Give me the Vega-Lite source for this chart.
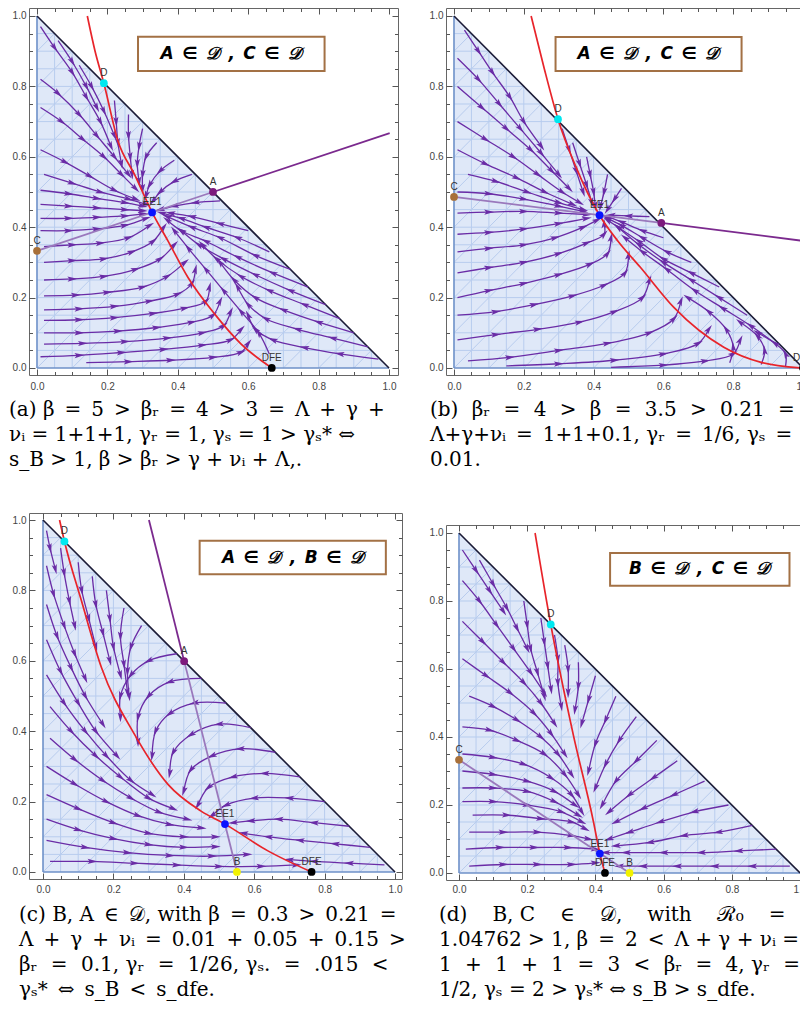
{
"$schema":"https://vega.github.io/schema/vega-lite/v6.json",
"background":"white",
"padding":{"left":8,"top":7,"right":0,"bottom":4},
"spacing":21,
"resolve":{"scale":{"x":"independent","y":"independent","color":"independent"}},
"config":{
 "view":{"stroke":"#666","strokeWidth":1},
 "axis":{"grid":false,"domain":false,"labelFont":"Liberation Sans","labelFontSize":10,"labelColor":"#444","tickColor":"#555","tickWidth":1,"labelFlush":false,"labelOverlap":false},
 "title":{"font":"DejaVu Serif","fontSize":20,"fontWeight":"normal","color":"black","lineHeight":25,"frame":"group"}
},
"datasets":{
 "tri":[{"x":0,"y":1},{"x":1,"y":0}],
 "edges":[{"x":0,"y":0,"x2":0,"y2":1,"e":"l"},{"x":0,"y":0,"x2":1,"y2":0,"e":"l"},{"x":0,"y":1,"x2":1,"y2":0,"e":"h"}],
 "mesh":[
  {"x":0,"x2":0.95,"y":0.05,"y2":0.05},{"x":0,"x2":0.9,"y":0.1,"y2":0.1},{"x":0,"x2":0.85,"y":0.15,"y2":0.15},{"x":0,"x2":0.8,"y":0.2,"y2":0.2},{"x":0,"x2":0.75,"y":0.25,"y2":0.25},{"x":0,"x2":0.7,"y":0.3,"y2":0.3},{"x":0,"x2":0.65,"y":0.35,"y2":0.35},{"x":0,"x2":0.6,"y":0.4,"y2":0.4},{"x":0,"x2":0.55,"y":0.45,"y2":0.45},{"x":0,"x2":0.5,"y":0.5,"y2":0.5},{"x":0,"x2":0.45,"y":0.55,"y2":0.55},{"x":0,"x2":0.4,"y":0.6,"y2":0.6},{"x":0,"x2":0.35,"y":0.65,"y2":0.65},{"x":0,"x2":0.3,"y":0.7,"y2":0.7},{"x":0,"x2":0.25,"y":0.75,"y2":0.75},{"x":0,"x2":0.2,"y":0.8,"y2":0.8},{"x":0,"x2":0.15,"y":0.85,"y2":0.85},{"x":0,"x2":0.1,"y":0.9,"y2":0.9},{"x":0,"x2":0.05,"y":0.95,"y2":0.95},
  {"y":0,"y2":0.95,"x":0.05,"x2":0.05},{"y":0,"y2":0.9,"x":0.1,"x2":0.1},{"y":0,"y2":0.85,"x":0.15,"x2":0.15},{"y":0,"y2":0.8,"x":0.2,"x2":0.2},{"y":0,"y2":0.75,"x":0.25,"x2":0.25},{"y":0,"y2":0.7,"x":0.3,"x2":0.3},{"y":0,"y2":0.65,"x":0.35,"x2":0.35},{"y":0,"y2":0.6,"x":0.4,"x2":0.4},{"y":0,"y2":0.55,"x":0.45,"x2":0.45},{"y":0,"y2":0.5,"x":0.5,"x2":0.5},{"y":0,"y2":0.45,"x":0.55,"x2":0.55},{"y":0,"y2":0.4,"x":0.6,"x2":0.6},{"y":0,"y2":0.35,"x":0.65,"x2":0.65},{"y":0,"y2":0.3,"x":0.7,"x2":0.7},{"y":0,"y2":0.25,"x":0.75,"x2":0.75},{"y":0,"y2":0.2,"x":0.8,"x2":0.8},{"y":0,"y2":0.15,"x":0.85,"x2":0.85},{"y":0,"y2":0.1,"x":0.9,"x2":0.9},{"y":0,"y2":0.05,"x":0.95,"x2":0.95},
  {"x":0.9,"y":0,"x2":0.95,"y2":0.05},{"x":0.8,"y":0,"x2":0.9,"y2":0.1},{"x":0.7,"y":0,"x2":0.85,"y2":0.15},{"x":0.6,"y":0,"x2":0.8,"y2":0.2},{"x":0.5,"y":0,"x2":0.75,"y2":0.25},{"x":0.4,"y":0,"x2":0.7,"y2":0.3},{"x":0.3,"y":0,"x2":0.65,"y2":0.35},{"x":0.2,"y":0,"x2":0.6,"y2":0.4},{"x":0.1,"y":0,"x2":0.55,"y2":0.45},{"x":0,"y":0,"x2":0.5,"y2":0.5},{"x":0,"y":0.1,"x2":0.45,"y2":0.55},{"x":0,"y":0.2,"x2":0.4,"y2":0.6},{"x":0,"y":0.3,"x2":0.35,"y2":0.65},{"x":0,"y":0.4,"x2":0.3,"y2":0.7},{"x":0,"y":0.5,"x2":0.25,"y2":0.75},{"x":0,"y":0.6,"x2":0.2,"y2":0.8},{"x":0,"y":0.7,"x2":0.15,"y2":0.85},{"x":0,"y":0.8,"x2":0.1,"y2":0.9},{"x":0,"y":0.9,"x2":0.05,"y2":0.95}
 ],
 "seg":[
  {"p":"a","k":"in","x":0,"y":0.333,"x2":0.5,"y2":0.5},
  {"p":"a","k":"out","x":0.5,"y":0.5,"x2":1.002,"y2":0.667},
  {"p":"b","k":"in","x":0,"y":0.486,"x2":0.594,"y2":0.412},
  {"p":"b","k":"out","x":0.594,"y":0.412,"x2":1.025,"y2":0.358},
  {"p":"c","k":"in","x":0.551,"y":0,"x2":0.401,"y2":0.599},
  {"p":"c","k":"out","x":0.401,"y":0.599,"x2":0.301,"y2":1.0},
  {"p":"d","k":"in","x":0,"y":0.333,"x2":0.5,"y2":0}
 ],
 "red":[
  {"p":"a","x":[0.143,0.165,0.19,0.23,0.277,0.327,0.372,0.429,0.505,0.58,0.667],"y":[1.0,0.9,0.809,0.645,0.55,0.442,0.361,0.257,0.153,0.068,0]},
  {"p":"b","x":[0.221,0.258,0.298,0.35,0.417,0.47,0.534,0.63,0.773,0.88,1.0],"y":[1.0,0.853,0.707,0.57,0.434,0.36,0.286,0.172,0.059,0.016,0]},
  {"p":"c","x":[0.047,0.061,0.109,0.166,0.26,0.355,0.449,0.517,0.639,0.763],"y":[1.0,0.939,0.771,0.581,0.391,0.249,0.173,0.136,0.06,0]},
  {"p":"d","x":[0.223,0.269,0.335,0.394,0.413,0.428],"y":[1.0,0.731,0.407,0.152,0.057,0]}
 ],
 "pts":[
  {"p":"a","n":"D","x":0.19,"y":0.809},{"p":"a","n":"A","x":0.5,"y":0.5},{"p":"a","n":"C","x":0,"y":0.333},{"p":"a","n":"EE1","x":0.327,"y":0.442},{"p":"a","n":"DFE","x":0.667,"y":0},
  {"p":"b","n":"D","x":0.298,"y":0.707},{"p":"b","n":"A","x":0.594,"y":0.412},{"p":"b","n":"C","x":0,"y":0.486},{"p":"b","n":"EE1","x":0.417,"y":0.434},{"p":"b","n":"DFE","x":1.0,"y":0},
  {"p":"c","n":"D","x":0.061,"y":0.939},{"p":"c","n":"A","x":0.401,"y":0.599},{"p":"c","n":"B","x":0.551,"y":0},{"p":"c","n":"EE1","x":0.517,"y":0.136},{"p":"c","n":"DFE","x":0.763,"y":0},
  {"p":"d","n":"D","x":0.269,"y":0.731},{"p":"d","n":"C","x":0,"y":0.333},{"p":"d","n":"B","x":0.5,"y":0},{"p":"d","n":"EE1","x":0.413,"y":0.057},{"p":"d","n":"DFE","x":0.428,"y":0}
 ],
 "box":[
  {"p":"a","x":0.287,"x2":0.817,"y":0.844,"y2":0.941},
  {"p":"b","x":0.291,"x2":0.824,"y":0.844,"y2":0.94},
  {"p":"c","x":0.445,"x2":0.974,"y":0.846,"y2":0.941},
  {"p":"d","x":0.443,"x2":0.969,"y":0.845,"y2":0.941}
 ],
 "boxt":[
  {"p":"a","x":0.552,"y":0.892,"t":"A\u2002∈\u2002𝒟\u2002,\u2002C\u2002∈\u2002𝒟"},
  {"p":"b","x":0.557,"y":0.892,"t":"A\u2002∈\u2002𝒟\u2002,\u2002C\u2002∈\u2002𝒟"},
  {"p":"c","x":0.71,"y":0.893,"t":"A\u2002∈\u2002𝒟\u2002,\u2002B\u2002∈\u2002𝒟"},
  {"p":"d","x":0.706,"y":0.893,"t":"B\u2002∈\u2002𝒟\u2002,\u2002C\u2002∈\u2002𝒟"}
 ],
 "st":[
  {"p":"a","s":"a1","x":[0.01,0.05,0.1,0.14,0.18,0.21],"y":[0.97,0.91,0.84,0.77,0.7,0.63]},
  {"p":"a","s":"a2","x":[0.06,0.1,0.14,0.17],"y":[0.93,0.87,0.8,0.74]},
  {"p":"a","s":"a3","x":[0.12,0.155,0.19,0.22],"y":[0.86,0.8,0.73,0.66]},
  {"p":"a","s":"a4","x":[0.01,0.06,0.12,0.17,0.22,0.26],"y":[0.82,0.78,0.72,0.66,0.6,0.55]},
  {"p":"a","s":"a5","x":[0.01,0.07,0.13,0.19,0.24,0.28],"y":[0.74,0.7,0.65,0.6,0.55,0.51]},
  {"p":"a","s":"a6","x":[0.01,0.08,0.15,0.22,0.28],"y":[0.62,0.585,0.545,0.505,0.48]},
  {"p":"a","s":"a7","x":[0.02,0.1,0.18,0.26,0.31],"y":[0.55,0.525,0.5,0.48,0.465]},
  {"p":"a","s":"a8","x":[0.01,0.09,0.17,0.25,0.3],"y":[0.505,0.495,0.482,0.47,0.46]},
  {"p":"a","s":"a9","x":[0.01,0.09,0.17,0.25,0.3],"y":[0.465,0.46,0.455,0.45,0.447]},
  {"p":"a","s":"a10","x":[0.01,0.09,0.17,0.25,0.3],"y":[0.425,0.425,0.428,0.432,0.438]},
  {"p":"a","s":"a11","x":[0.01,0.09,0.17,0.25,0.31],"y":[0.39,0.39,0.395,0.405,0.425]},
  {"p":"a","s":"a12","x":[0.02,0.1,0.18,0.26,0.32],"y":[0.345,0.35,0.355,0.37,0.405]},
  {"p":"a","s":"a13","x":[0.02,0.1,0.19,0.27,0.33,0.36],"y":[0.3,0.305,0.31,0.33,0.36,0.4]},
  {"p":"a","s":"a14","x":[0.02,0.1,0.19,0.28,0.35,0.39],"y":[0.25,0.253,0.26,0.28,0.31,0.35]},
  {"p":"a","s":"a15","x":[0.02,0.11,0.2,0.3,0.37,0.42],"y":[0.205,0.207,0.215,0.23,0.26,0.3]},
  {"p":"a","s":"a16","x":[0.02,0.12,0.22,0.32,0.4,0.44,0.45],"y":[0.165,0.168,0.175,0.19,0.21,0.24,0.28]},
  {"p":"a","s":"a17","x":[0.02,0.12,0.22,0.33,0.42,0.48,0.49],"y":[0.135,0.137,0.143,0.155,0.17,0.19,0.23]},
  {"p":"a","s":"a18","x":[0.02,0.12,0.23,0.34,0.44,0.5,0.52],"y":[0.1,0.1,0.105,0.115,0.13,0.15,0.19]},
  {"p":"a","s":"a19","x":[0.02,0.13,0.25,0.37,0.47,0.53,0.55],"y":[0.068,0.07,0.075,0.085,0.1,0.12,0.16]},
  {"p":"a","s":"a20","x":[0.01,0.12,0.24,0.36,0.47,0.55,0.58],"y":[0.032,0.036,0.044,0.053,0.065,0.08,0.11]},
  {"p":"a","s":"a21","x":[0.14,0.26,0.38,0.5,0.58,0.6],"y":[0.015,0.018,0.022,0.03,0.045,0.07]},
  {"p":"a","s":"a22","x":[0.97,0.86,0.76,0.67,0.62,0.6],"y":[0.025,0.04,0.058,0.08,0.11,0.15]},
  {"p":"a","s":"a23","x":[0.94,0.84,0.74,0.65,0.6,0.57],"y":[0.06,0.085,0.11,0.14,0.18,0.23]},
  {"p":"a","s":"a24","x":[0.9,0.8,0.7,0.62,0.56,0.52],"y":[0.1,0.13,0.165,0.2,0.25,0.3]},
  {"p":"a","s":"a25","x":[0.86,0.76,0.66,0.58,0.51,0.47],"y":[0.14,0.18,0.22,0.26,0.31,0.35]},
  {"p":"a","s":"a26","x":[0.82,0.72,0.62,0.53,0.46,0.41],"y":[0.18,0.22,0.265,0.31,0.35,0.39]},
  {"p":"a","s":"a27","x":[0.77,0.67,0.57,0.48,0.41,0.37],"y":[0.23,0.27,0.315,0.36,0.39,0.42]},
  {"p":"a","s":"a28","x":[0.72,0.62,0.52,0.44,0.37],"y":[0.28,0.32,0.37,0.4,0.43]},
  {"p":"a","s":"a29","x":[0.66,0.57,0.48,0.41,0.355],"y":[0.33,0.37,0.4,0.425,0.44]},
  {"p":"a","s":"a30","x":[0.6,0.52,0.44,0.38],"y":[0.39,0.41,0.43,0.44]},
  {"p":"a","s":"a31","x":[0.52,0.45,0.39,0.35],"y":[0.475,0.47,0.46,0.45]},
  {"p":"a","s":"a32","x":[0.22,0.225,0.23,0.24],"y":[0.76,0.7,0.64,0.58]},
  {"p":"a","s":"a33","x":[0.26,0.26,0.265,0.27],"y":[0.72,0.66,0.6,0.55]},
  {"p":"a","s":"a34","x":[0.3,0.29,0.285,0.29],"y":[0.68,0.63,0.58,0.53]},
  {"p":"a","s":"a35","x":[0.34,0.31,0.3,0.3],"y":[0.64,0.6,0.55,0.51]},
  {"p":"a","s":"a36","x":[0.39,0.35,0.32,0.31],"y":[0.59,0.56,0.52,0.49]},
  {"p":"a","s":"a37","x":[0.44,0.39,0.35,0.33],"y":[0.55,0.53,0.5,0.475]},
  {"p":"a","s":"a38","x":[0.66,0.63,0.58,0.53,0.48,0.43,0.39],"y":[0.04,0.1,0.16,0.22,0.28,0.34,0.39]},
  {"p":"b","s":"b1","x":[0.03,0.07,0.11,0.16,0.2,0.25],"y":[0.96,0.9,0.84,0.77,0.7,0.63]},
  {"p":"b","s":"b2","x":[0.01,0.07,0.13,0.19,0.25,0.3],"y":[0.88,0.82,0.75,0.68,0.61,0.55]},
  {"p":"b","s":"b3","x":[0.01,0.08,0.15,0.22,0.28,0.33],"y":[0.8,0.74,0.68,0.62,0.56,0.51]},
  {"p":"b","s":"b4","x":[0.01,0.09,0.17,0.24,0.31,0.36],"y":[0.7,0.65,0.6,0.55,0.5,0.47]},
  {"p":"b","s":"b5","x":[0.01,0.09,0.18,0.26,0.34],"y":[0.62,0.58,0.54,0.5,0.465]},
  {"p":"b","s":"b6","x":[0.04,0.12,0.21,0.3,0.37],"y":[0.55,0.53,0.5,0.47,0.45]},
  {"p":"b","s":"b7","x":[0.01,0.1,0.2,0.3,0.37],"y":[0.5,0.495,0.48,0.46,0.445]},
  {"p":"b","s":"b8","x":[0.01,0.1,0.2,0.3,0.38],"y":[0.44,0.443,0.445,0.44,0.436]},
  {"p":"b","s":"b9","x":[0.01,0.1,0.2,0.3,0.38],"y":[0.38,0.385,0.395,0.41,0.425]},
  {"p":"b","s":"b10","x":[0.01,0.1,0.2,0.29,0.37,0.41],"y":[0.33,0.34,0.35,0.37,0.4,0.42]},
  {"p":"b","s":"b11","x":[0.01,0.1,0.2,0.3,0.38,0.43,0.43],"y":[0.27,0.285,0.3,0.325,0.355,0.38,0.41]},
  {"p":"b","s":"b12","x":[0.01,0.1,0.2,0.3,0.39,0.44,0.45],"y":[0.2,0.22,0.24,0.265,0.295,0.325,0.37]},
  {"p":"b","s":"b13","x":[0.01,0.12,0.23,0.34,0.43,0.49,0.5],"y":[0.15,0.16,0.18,0.205,0.235,0.27,0.32]},
  {"p":"b","s":"b14","x":[0.01,0.12,0.24,0.36,0.46,0.54,0.56],"y":[0.08,0.095,0.11,0.13,0.16,0.2,0.25]},
  {"p":"b","s":"b15","x":[0.04,0.16,0.3,0.44,0.56,0.63,0.65],"y":[0.02,0.03,0.05,0.07,0.1,0.14,0.19]},
  {"p":"b","s":"b16","x":[0.15,0.3,0.46,0.6,0.7,0.73],"y":[0.006,0.012,0.022,0.04,0.07,0.11]},
  {"p":"b","s":"b17","x":[0.45,0.6,0.72,0.8,0.82],"y":[0.002,0.008,0.02,0.04,0.08]},
  {"p":"b","s":"b18","x":[0.92,0.85,0.77,0.69,0.61,0.54,0.49],"y":[0.07,0.12,0.17,0.22,0.28,0.33,0.37]},
  {"p":"b","s":"b19","x":[0.84,0.76,0.68,0.6,0.53,0.47],"y":[0.15,0.2,0.25,0.3,0.35,0.4]},
  {"p":"b","s":"b20","x":[0.76,0.68,0.6,0.53,0.47,0.44],"y":[0.23,0.27,0.31,0.36,0.4,0.42]},
  {"p":"b","s":"b21","x":[0.68,0.61,0.54,0.48,0.44],"y":[0.3,0.33,0.37,0.405,0.425]},
  {"p":"b","s":"b22","x":[0.6,0.54,0.48,0.44],"y":[0.37,0.39,0.415,0.43]},
  {"p":"b","s":"b23","x":[0.56,0.5,0.45],"y":[0.43,0.432,0.434]},
  {"p":"b","s":"b24","x":[0.95,0.95,0.92,0.87],"y":[0.005,0.04,0.07,0.1]},
  {"p":"b","s":"b25","x":[0.88,0.89,0.87,0.82],"y":[0.01,0.05,0.09,0.13]},
  {"p":"b","s":"b26","x":[0.79,0.8,0.78,0.73,0.67],"y":[0.015,0.06,0.11,0.16,0.2]},
  {"p":"b","s":"b27","x":[0.31,0.33,0.35,0.37],"y":[0.68,0.62,0.56,0.5]},
  {"p":"b","s":"b28","x":[0.34,0.36,0.38,0.395],"y":[0.64,0.58,0.52,0.47]},
  {"p":"b","s":"b29","x":[0.38,0.39,0.4,0.405],"y":[0.6,0.55,0.5,0.46]},
  {"p":"b","s":"b30","x":[0.44,0.43,0.42],"y":[0.55,0.5,0.46]},
  {"p":"b","s":"b31","x":[0.48,0.46,0.44],"y":[0.51,0.48,0.45]},
  {"p":"c","s":"c1","x":[0.01,0.02,0.035],"y":[0.97,0.92,0.86]},
  {"p":"c","s":"c2","x":[0.05,0.06,0.075,0.09],"y":[0.92,0.85,0.77,0.7]},
  {"p":"c","s":"c3","x":[0.01,0.03,0.06,0.09,0.12],"y":[0.87,0.79,0.7,0.62,0.55]},
  {"p":"c","s":"c4","x":[0.01,0.04,0.08,0.12,0.17],"y":[0.76,0.67,0.58,0.5,0.42]},
  {"p":"c","s":"c5","x":[0.01,0.05,0.1,0.15,0.21],"y":[0.66,0.57,0.48,0.4,0.33]},
  {"p":"c","s":"c6","x":[0.01,0.06,0.12,0.18,0.25,0.31],"y":[0.56,0.48,0.4,0.33,0.26,0.22]},
  {"p":"c","s":"c7","x":[0.02,0.08,0.15,0.22,0.3,0.37],"y":[0.47,0.4,0.33,0.27,0.21,0.18]},
  {"p":"c","s":"c8","x":[0.02,0.09,0.17,0.25,0.33,0.41],"y":[0.38,0.32,0.26,0.21,0.17,0.15]},
  {"p":"c","s":"c9","x":[0.01,0.09,0.18,0.27,0.36,0.45],"y":[0.3,0.25,0.2,0.16,0.135,0.125]},
  {"p":"c","s":"c10","x":[0.01,0.1,0.2,0.3,0.4,0.49],"y":[0.22,0.18,0.14,0.11,0.1,0.1]},
  {"p":"c","s":"c11","x":[0.01,0.1,0.2,0.3,0.4,0.49],"y":[0.15,0.12,0.095,0.078,0.07,0.072]},
  {"p":"c","s":"c12","x":[0.01,0.12,0.24,0.36,0.48,0.58],"y":[0.09,0.07,0.055,0.047,0.045,0.05]},
  {"p":"c","s":"c13","x":[0.02,0.14,0.26,0.38,0.5,0.62,0.72],"y":[0.03,0.03,0.025,0.02,0.016,0.016,0.02]},
  {"p":"c","s":"c14","x":[0.1,0.11,0.13,0.15],"y":[0.88,0.8,0.72,0.64]},
  {"p":"c","s":"c15","x":[0.14,0.15,0.17,0.19],"y":[0.84,0.76,0.68,0.6]},
  {"p":"c","s":"c16","x":[0.18,0.19,0.2,0.22],"y":[0.8,0.72,0.64,0.56]},
  {"p":"c","s":"c17","x":[0.23,0.22,0.23,0.24],"y":[0.75,0.67,0.59,0.51]},
  {"p":"c","s":"c18","x":[0.28,0.25,0.24,0.245],"y":[0.7,0.64,0.57,0.5]},
  {"p":"c","s":"c19","x":[0.38,0.3,0.25,0.22,0.22],"y":[0.62,0.6,0.56,0.5,0.44]},
  {"p":"c","s":"c20","x":[0.45,0.36,0.3,0.27,0.27],"y":[0.55,0.54,0.5,0.44,0.37]},
  {"p":"c","s":"c21","x":[0.52,0.43,0.36,0.32,0.31],"y":[0.48,0.48,0.45,0.4,0.33]},
  {"p":"c","s":"c22","x":[0.59,0.5,0.42,0.37,0.36],"y":[0.41,0.42,0.39,0.34,0.28]},
  {"p":"c","s":"c23","x":[0.66,0.56,0.48,0.42,0.4],"y":[0.34,0.35,0.33,0.29,0.23]},
  {"p":"c","s":"c24","x":[0.73,0.63,0.54,0.47,0.44],"y":[0.27,0.28,0.27,0.24,0.19]},
  {"p":"c","s":"c25","x":[0.8,0.7,0.6,0.52,0.48],"y":[0.2,0.21,0.21,0.19,0.16]},
  {"p":"c","s":"c26","x":[0.87,0.77,0.67,0.59,0.54],"y":[0.13,0.14,0.15,0.145,0.14]},
  {"p":"c","s":"c27","x":[0.93,0.83,0.73,0.64,0.57],"y":[0.07,0.08,0.09,0.1,0.11]},
  {"p":"c","s":"c28","x":[0.97,0.87,0.77,0.7],"y":[0.02,0.025,0.03,0.035]},
  {"p":"d","s":"d1","x":[0.01,0.05,0.09,0.13],"y":[0.95,0.89,0.83,0.77]},
  {"p":"d","s":"d2","x":[0.06,0.1,0.14,0.17,0.2],"y":[0.92,0.85,0.78,0.72,0.66]},
  {"p":"d","s":"d3","x":[0.01,0.06,0.11,0.16,0.21,0.25],"y":[0.86,0.8,0.73,0.66,0.59,0.53]},
  {"p":"d","s":"d4","x":[0.01,0.07,0.13,0.19,0.24,0.28],"y":[0.74,0.68,0.62,0.56,0.5,0.44]},
  {"p":"d","s":"d5","x":[0.01,0.08,0.15,0.22,0.27,0.31],"y":[0.63,0.58,0.53,0.47,0.41,0.35]},
  {"p":"d","s":"d6","x":[0.03,0.1,0.17,0.24,0.29,0.33],"y":[0.52,0.49,0.45,0.4,0.35,0.29]},
  {"p":"d","s":"d7","x":[0.01,0.09,0.17,0.25,0.31,0.35],"y":[0.43,0.42,0.39,0.35,0.29,0.23]},
  {"p":"d","s":"d8","x":[0.01,0.1,0.19,0.27,0.33,0.36],"y":[0.35,0.34,0.32,0.28,0.23,0.18]},
  {"p":"d","s":"d9","x":[0.01,0.1,0.2,0.28,0.34],"y":[0.3,0.29,0.27,0.24,0.2]},
  {"p":"d","s":"d10","x":[0.01,0.1,0.2,0.28,0.35],"y":[0.25,0.25,0.24,0.21,0.17]},
  {"p":"d","s":"d11","x":[0.01,0.1,0.2,0.3,0.36],"y":[0.21,0.21,0.2,0.18,0.15]},
  {"p":"d","s":"d12","x":[0.04,0.14,0.24,0.33,0.37],"y":[0.17,0.17,0.16,0.15,0.13]},
  {"p":"d","s":"d13","x":[0.03,0.13,0.23,0.33,0.38],"y":[0.12,0.12,0.12,0.11,0.1]},
  {"p":"d","s":"d14","x":[0.02,0.12,0.22,0.32,0.4],"y":[0.07,0.075,0.075,0.075,0.07]},
  {"p":"d","s":"d15","x":[0.03,0.13,0.23,0.33,0.4],"y":[0.02,0.025,0.025,0.025,0.03]},
  {"p":"d","s":"d16","x":[0.19,0.2,0.21,0.23,0.25],"y":[0.8,0.73,0.66,0.59,0.52]},
  {"p":"d","s":"d17","x":[0.24,0.25,0.26,0.27],"y":[0.75,0.68,0.61,0.54]},
  {"p":"d","s":"d18","x":[0.28,0.29,0.29,0.3],"y":[0.7,0.63,0.56,0.49]},
  {"p":"d","s":"d19","x":[0.31,0.32,0.32],"y":[0.67,0.6,0.53]},
  {"p":"d","s":"d20","x":[0.35,0.35,0.34],"y":[0.62,0.55,0.48]},
  {"p":"d","s":"d21","x":[0.4,0.38,0.36],"y":[0.58,0.51,0.44]},
  {"p":"d","s":"d22","x":[0.46,0.43,0.4,0.38],"y":[0.52,0.45,0.38,0.3]},
  {"p":"d","s":"d23","x":[0.52,0.47,0.43,0.4],"y":[0.46,0.39,0.32,0.25]},
  {"p":"d","s":"d24","x":[0.58,0.52,0.46,0.42],"y":[0.39,0.33,0.27,0.2]},
  {"p":"d","s":"d25","x":[0.64,0.57,0.5,0.44],"y":[0.33,0.28,0.23,0.18]},
  {"p":"d","s":"d26","x":[0.72,0.63,0.54,0.46],"y":[0.27,0.23,0.19,0.15]},
  {"p":"d","s":"d27","x":[0.79,0.69,0.59,0.5,0.44],"y":[0.2,0.18,0.15,0.12,0.1]},
  {"p":"d","s":"d28","x":[0.86,0.76,0.66,0.56,0.46],"y":[0.14,0.12,0.11,0.09,0.08]},
  {"p":"d","s":"d29","x":[0.93,0.82,0.71,0.6,0.49,0.43],"y":[0.07,0.065,0.06,0.06,0.06,0.06]},
  {"p":"d","s":"d30","x":[0.97,0.86,0.75,0.64,0.54,0.47],"y":[0.02,0.02,0.02,0.02,0.02,0.02]}
 ]
},
"hconcat":[
 {"bounds":"flush","spacing":138,"resolve":{"scale":{"x":"independent","y":"independent","color":"independent"}},"vconcat":[
  {"width":369,"height":367,
   "title":{"text":["(a) β\u2002=\u20025\u2002>\u2002βᵣ\u2002=\u20024\u2002>\u20023\u2002=\u2002Λ\u2002+\u2002γ\u2002+","νᵢ = 1+1+1, γᵣ = 1, γₛ = 1 > γₛ* ⇔","s_B > 1, β > βᵣ > γ + νᵢ + Λ,."],"orient":"bottom","anchor":"start","dx":-20,"offset":6},
   "encoding":{"x":{"field":"x","type":"quantitative","scale":{"domain":[-0.0227,1.0256],"nice":false,"zero":false},"axis":null},"y":{"field":"y","type":"quantitative","scale":{"domain":[-0.0199,1.0227],"nice":false,"zero":false},"axis":null}},
   "resolve":{"scale":{"color":"independent"},"axis":{"x":"independent","y":"independent"}},
   "layer":[
    {"data":{"name":"tri"},"mark":{"type":"area","color":"#dfe8f8"},"encoding":{
      "x":{"field":"x","type":"quantitative","scale":{"domain":[-0.0227,1.0256],"nice":false,"zero":false},"axis":{"orient":"bottom","title":null,"values":[0,0.05,0.1,0.15,0.2,0.25,0.3,0.35,0.4,0.45,0.5,0.55,0.6,0.65,0.7,0.75,0.8,0.85,0.9,0.95,1],"labelExpr":"round(datum.value*20)%4==0 ? format(datum.value,'.1f') : ''","tickSize":{"condition":{"test":"round(datum.value*20)%4==0","value":-6},"value":-3.5},"labelPadding":12}},
      "y":{"field":"y","type":"quantitative","scale":{"domain":[-0.0199,1.0227],"nice":false,"zero":false},"axis":{"orient":"left","title":null,"values":[0,0.05,0.1,0.15,0.2,0.25,0.3,0.35,0.4,0.45,0.5,0.55,0.6,0.65,0.7,0.75,0.8,0.85,0.9,0.95,1],"labelExpr":"round(datum.value*20)%4==0 ? format(datum.value,'.1f') : ''","tickSize":{"condition":{"test":"round(datum.value*20)%4==0","value":-6},"value":-3.5},"labelPadding":9}},
      "y2":{"datum":0}}},
    {"data":{"name":"mesh"},"mark":{"type":"rule","color":"#b8ccee","strokeWidth":1},"encoding":{
      "x":{"field":"x","type":"quantitative","scale":{"domain":[-0.0227,1.0256],"nice":false,"zero":false},"axis":{"orient":"top","title":null,"labels":false,"values":[0,0.05,0.1,0.15,0.2,0.25,0.3,0.35,0.4,0.45,0.5,0.55,0.6,0.65,0.7,0.75,0.8,0.85,0.9,0.95,1],"tickSize":{"condition":{"test":"round(datum.value*20)%4==0","value":-6},"value":-3.5}}},
      "y":{"field":"y","type":"quantitative","scale":{"domain":[-0.0199,1.0227],"nice":false,"zero":false},"axis":{"orient":"right","title":null,"labels":false,"values":[0,0.05,0.1,0.15,0.2,0.25,0.3,0.35,0.4,0.45,0.5,0.55,0.6,0.65,0.7,0.75,0.8,0.85,0.9,0.95,1],"tickSize":{"condition":{"test":"round(datum.value*20)%4==0","value":-6},"value":-3.5}}},
      "x2":{"field":"x2"},"y2":{"field":"y2"}}},
    {"data":{"name":"edges"},"mark":{"type":"rule","strokeWidth":1.6},"encoding":{"x2":{"field":"x2"},"y2":{"field":"y2"},"color":{"field":"e","type":"nominal","scale":{"domain":["l","h"],"range":["#6e91c9","#1a1a36"]},"legend":null}}},
    {"data":{"name":"st"},"transform":[{"filter":"datum.p=='a'"},{"flatten":["x","y"]},{"window":[{"op":"row_number","as":"o"},{"op":"lag","field":"x","as":"px"},{"op":"lag","field":"y","as":"py"},{"op":"lead","field":"x","as":"nx"},{"op":"lead","field":"y","as":"ny"}],"groupby":["s"]}],
     "layer":[
      {"mark":{"type":"line","color":"#6a2ca6","strokeWidth":1.3,"interpolate":"catmull-rom"},"encoding":{"detail":{"field":"s"},"order":{"field":"o","type":"quantitative"}}},
      {"transform":[{"filter":"datum.px != null"},{"calculate":"atan2((datum.nx != null ? datum.nx : datum.x) - datum.px, (datum.ny != null ? datum.ny : datum.y) - datum.py) * 180 / PI","as":"ang"}],
       "mark":{"type":"point","shape":"M0,-1L0.5,0.9L0,0.5L-0.5,0.9Z","filled":true,"size":110,"color":"#6a2ca6","opacity":1},"encoding":{"angle":{"field":"ang","type":"quantitative","scale":null}}}
     ]},
    {"data":{"name":"seg"},"transform":[{"filter":"datum.p=='a'"}],"mark":{"type":"rule","strokeWidth":1.8},"encoding":{"x2":{"field":"x2"},"y2":{"field":"y2"},"color":{"field":"k","type":"nominal","scale":{"domain":["in","out"],"range":["#9a78bc","#7b2a8e"]},"legend":null}}},
    {"data":{"name":"red"},"transform":[{"filter":"datum.p=='a'"},{"flatten":["x","y"]}],"mark":{"type":"line","color":"#e8242a","strokeWidth":1.7,"interpolate":"monotone"}},
    {"data":{"name":"pts"},"transform":[{"filter":"datum.p=='a'"}],"layer":[
      {"mark":{"type":"point","filled":true,"size":60,"opacity":1},"encoding":{"color":{"field":"n","type":"nominal","scale":{"domain":["D","A","C","B","EE1","DFE"],"range":["#00e8f0","#7d1a7d","#a8703a","#f2f200","#0a14ff","#000000"]},"legend":null}}},
      {"mark":{"type":"text","dy":-10,"fontSize":10,"font":"Liberation Sans","color":"#333"},"encoding":{"text":{"field":"n"}}}
    ]},
    {"data":{"name":"box"},"transform":[{"filter":"datum.p=='a'"}],"mark":{"type":"rect","fill":"white","stroke":"#a37145","strokeWidth":2},"encoding":{"x2":{"field":"x2"},"y2":{"field":"y2"}}},
    {"data":{"name":"boxt"},"transform":[{"filter":"datum.p=='a'"}],"mark":{"type":"text","font":"DejaVu Sans","fontSize":17,"fontStyle":"italic","fontWeight":"bold","color":"black"},"encoding":{"text":{"field":"t"}}}
   ]},
  {"width":373,"height":366,
   "title":{"text":["(c) B, A\u2002∈\u2002𝒟, with β\u2002=\u20020.3\u2002>\u20020.21\u2002=","Λ\u2002+\u2002γ\u2002+\u2002νᵢ\u2002=\u20020.01\u2002+\u20020.05\u2002+\u20020.15\u2002>","βᵣ\u2002\u2006=\u2002\u20060.1, γᵣ\u2002\u2006=\u2002\u20061/26, γₛ.\u2002\u2006=\u2002\u2006.015\u2002\u2006<","γₛ*\u2002⇔\u2002s_B\u2002<\u2002s_dfe."],"orient":"bottom","anchor":"start","dx":-10,"offset":8},
   "encoding":{"x":{"field":"x","type":"quantitative","scale":{"domain":[-0.0398,1.0199],"nice":false,"zero":false},"axis":null},"y":{"field":"y","type":"quantitative","scale":{"domain":[-0.0199,1.0199],"nice":false,"zero":false},"axis":null}},
   "resolve":{"scale":{"color":"independent"},"axis":{"x":"independent","y":"independent"}},
   "layer":[
    {"data":{"name":"tri"},"mark":{"type":"area","color":"#dfe8f8"},"encoding":{
      "x":{"field":"x","type":"quantitative","scale":{"domain":[-0.0398,1.0199],"nice":false,"zero":false},"axis":{"orient":"bottom","title":null,"values":[0,0.05,0.1,0.15,0.2,0.25,0.3,0.35,0.4,0.45,0.5,0.55,0.6,0.65,0.7,0.75,0.8,0.85,0.9,0.95,1],"labelExpr":"round(datum.value*20)%4==0 ? format(datum.value,'.1f') : ''","tickSize":{"condition":{"test":"round(datum.value*20)%4==0","value":-6},"value":-3.5},"labelPadding":11}},
      "y":{"field":"y","type":"quantitative","scale":{"domain":[-0.0199,1.0199],"nice":false,"zero":false},"axis":{"orient":"left","title":null,"values":[0,0.05,0.1,0.15,0.2,0.25,0.3,0.35,0.4,0.45,0.5,0.55,0.6,0.65,0.7,0.75,0.8,0.85,0.9,0.95,1],"labelExpr":"round(datum.value*20)%4==0 ? format(datum.value,'.1f') : ''","tickSize":{"condition":{"test":"round(datum.value*20)%4==0","value":-6},"value":-3.5},"labelPadding":9}},
      "y2":{"datum":0}}},
    {"data":{"name":"mesh"},"mark":{"type":"rule","color":"#b8ccee","strokeWidth":1},"encoding":{
      "x":{"field":"x","type":"quantitative","scale":{"domain":[-0.0398,1.0199],"nice":false,"zero":false},"axis":{"orient":"top","title":null,"labels":false,"values":[0,0.05,0.1,0.15,0.2,0.25,0.3,0.35,0.4,0.45,0.5,0.55,0.6,0.65,0.7,0.75,0.8,0.85,0.9,0.95,1],"tickSize":{"condition":{"test":"round(datum.value*20)%4==0","value":-6},"value":-3.5}}},
      "y":{"field":"y","type":"quantitative","scale":{"domain":[-0.0199,1.0199],"nice":false,"zero":false},"axis":{"orient":"right","title":null,"labels":false,"values":[0,0.05,0.1,0.15,0.2,0.25,0.3,0.35,0.4,0.45,0.5,0.55,0.6,0.65,0.7,0.75,0.8,0.85,0.9,0.95,1],"tickSize":{"condition":{"test":"round(datum.value*20)%4==0","value":-6},"value":-3.5}}},
      "x2":{"field":"x2"},"y2":{"field":"y2"}}},
    {"data":{"name":"edges"},"mark":{"type":"rule","strokeWidth":1.6},"encoding":{"x2":{"field":"x2"},"y2":{"field":"y2"},"color":{"field":"e","type":"nominal","scale":{"domain":["l","h"],"range":["#6e91c9","#1a1a36"]},"legend":null}}},
    {"data":{"name":"st"},"transform":[{"filter":"datum.p=='c'"},{"flatten":["x","y"]},{"window":[{"op":"row_number","as":"o"},{"op":"lag","field":"x","as":"px"},{"op":"lag","field":"y","as":"py"},{"op":"lead","field":"x","as":"nx"},{"op":"lead","field":"y","as":"ny"}],"groupby":["s"]}],
     "layer":[
      {"mark":{"type":"line","color":"#6a2ca6","strokeWidth":1.3,"interpolate":"catmull-rom"},"encoding":{"detail":{"field":"s"},"order":{"field":"o","type":"quantitative"}}},
      {"transform":[{"filter":"datum.px != null"},{"calculate":"atan2((datum.nx != null ? datum.nx : datum.x) - datum.px, (datum.ny != null ? datum.ny : datum.y) - datum.py) * 180 / PI","as":"ang"}],
       "mark":{"type":"point","shape":"M0,-1L0.5,0.9L0,0.5L-0.5,0.9Z","filled":true,"size":110,"color":"#6a2ca6","opacity":1},"encoding":{"angle":{"field":"ang","type":"quantitative","scale":null}}}
     ]},
    {"data":{"name":"seg"},"transform":[{"filter":"datum.p=='c'"}],"mark":{"type":"rule","strokeWidth":1.8},"encoding":{"x2":{"field":"x2"},"y2":{"field":"y2"},"color":{"field":"k","type":"nominal","scale":{"domain":["in","out"],"range":["#9a78bc","#7b2a8e"]},"legend":null}}},
    {"data":{"name":"red"},"transform":[{"filter":"datum.p=='c'"},{"flatten":["x","y"]}],"mark":{"type":"line","color":"#e8242a","strokeWidth":1.7,"interpolate":"monotone"}},
    {"data":{"name":"pts"},"transform":[{"filter":"datum.p=='c'"}],"layer":[
      {"mark":{"type":"point","filled":true,"size":60,"opacity":1},"encoding":{"color":{"field":"n","type":"nominal","scale":{"domain":["D","A","C","B","EE1","DFE"],"range":["#00e8f0","#7d1a7d","#a8703a","#f2f200","#0a14ff","#000000"]},"legend":null}}},
      {"mark":{"type":"text","dy":-10,"fontSize":10,"font":"Liberation Sans","color":"#333"},"encoding":{"text":{"field":"n"}}}
    ]},
    {"data":{"name":"box"},"transform":[{"filter":"datum.p=='c'"}],"mark":{"type":"rect","fill":"white","stroke":"#a37145","strokeWidth":2},"encoding":{"x2":{"field":"x2"},"y2":{"field":"y2"}}},
    {"data":{"name":"boxt"},"transform":[{"filter":"datum.p=='c'"}],"mark":{"type":"text","font":"DejaVu Sans","fontSize":17,"fontStyle":"italic","fontWeight":"bold","color":"black"},"encoding":{"text":{"field":"t"}}}
   ]}
 ]},
 {"bounds":"flush","spacing":150,"resolve":{"scale":{"x":"independent","y":"independent","color":"independent"}},"vconcat":[
  {"width":366,"height":367,
   "title":{"text":["(b)\u2002\u2006βᵣ\u2002\u2006=\u2002\u20064\u2002\u2006>\u2002\u2006β\u2002\u2006=\u2002\u20063.5\u2002\u2006>\u2002\u20060.21\u2002\u2006=","Λ+γ+νᵢ\u2002=\u20021+1+0.1, γᵣ\u2002=\u20021/6, γₛ\u2002=","0.01."],"orient":"bottom","anchor":"start","dx":-16,"offset":6},
   "encoding":{"x":{"field":"x","type":"quantitative","scale":{"domain":[-0.0229,1.0258],"nice":false,"zero":false},"axis":null},"y":{"field":"y","type":"quantitative","scale":{"domain":[-0.0199,1.0227],"nice":false,"zero":false},"axis":null}},
   "resolve":{"scale":{"color":"independent"},"axis":{"x":"independent","y":"independent"}},
   "layer":[
    {"data":{"name":"tri"},"mark":{"type":"area","color":"#dfe8f8"},"encoding":{
      "x":{"field":"x","type":"quantitative","scale":{"domain":[-0.0229,1.0258],"nice":false,"zero":false},"axis":{"orient":"bottom","title":null,"values":[0,0.05,0.1,0.15,0.2,0.25,0.3,0.35,0.4,0.45,0.5,0.55,0.6,0.65,0.7,0.75,0.8,0.85,0.9,0.95,1],"labelExpr":"round(datum.value*20)%4==0 ? format(datum.value,'.1f') : ''","tickSize":{"condition":{"test":"round(datum.value*20)%4==0","value":-6},"value":-3.5},"labelPadding":12}},
      "y":{"field":"y","type":"quantitative","scale":{"domain":[-0.0199,1.0227],"nice":false,"zero":false},"axis":{"orient":"left","title":null,"values":[0,0.05,0.1,0.15,0.2,0.25,0.3,0.35,0.4,0.45,0.5,0.55,0.6,0.65,0.7,0.75,0.8,0.85,0.9,0.95,1],"labelExpr":"round(datum.value*20)%4==0 ? format(datum.value,'.1f') : ''","tickSize":{"condition":{"test":"round(datum.value*20)%4==0","value":-6},"value":-3.5},"labelPadding":9}},
      "y2":{"datum":0}}},
    {"data":{"name":"mesh"},"mark":{"type":"rule","color":"#b8ccee","strokeWidth":1},"encoding":{
      "x":{"field":"x","type":"quantitative","scale":{"domain":[-0.0229,1.0258],"nice":false,"zero":false},"axis":{"orient":"top","title":null,"labels":false,"values":[0,0.05,0.1,0.15,0.2,0.25,0.3,0.35,0.4,0.45,0.5,0.55,0.6,0.65,0.7,0.75,0.8,0.85,0.9,0.95,1],"tickSize":{"condition":{"test":"round(datum.value*20)%4==0","value":-6},"value":-3.5}}},
      "y":{"field":"y","type":"quantitative","scale":{"domain":[-0.0199,1.0227],"nice":false,"zero":false},"axis":{"orient":"right","title":null,"labels":false,"values":[0,0.05,0.1,0.15,0.2,0.25,0.3,0.35,0.4,0.45,0.5,0.55,0.6,0.65,0.7,0.75,0.8,0.85,0.9,0.95,1],"tickSize":{"condition":{"test":"round(datum.value*20)%4==0","value":-6},"value":-3.5}}},
      "x2":{"field":"x2"},"y2":{"field":"y2"}}},
    {"data":{"name":"edges"},"mark":{"type":"rule","strokeWidth":1.6},"encoding":{"x2":{"field":"x2"},"y2":{"field":"y2"},"color":{"field":"e","type":"nominal","scale":{"domain":["l","h"],"range":["#6e91c9","#1a1a36"]},"legend":null}}},
    {"data":{"name":"st"},"transform":[{"filter":"datum.p=='b'"},{"flatten":["x","y"]},{"window":[{"op":"row_number","as":"o"},{"op":"lag","field":"x","as":"px"},{"op":"lag","field":"y","as":"py"},{"op":"lead","field":"x","as":"nx"},{"op":"lead","field":"y","as":"ny"}],"groupby":["s"]}],
     "layer":[
      {"mark":{"type":"line","color":"#6a2ca6","strokeWidth":1.3,"interpolate":"catmull-rom"},"encoding":{"detail":{"field":"s"},"order":{"field":"o","type":"quantitative"}}},
      {"transform":[{"filter":"datum.px != null"},{"calculate":"atan2((datum.nx != null ? datum.nx : datum.x) - datum.px, (datum.ny != null ? datum.ny : datum.y) - datum.py) * 180 / PI","as":"ang"}],
       "mark":{"type":"point","shape":"M0,-1L0.5,0.9L0,0.5L-0.5,0.9Z","filled":true,"size":110,"color":"#6a2ca6","opacity":1},"encoding":{"angle":{"field":"ang","type":"quantitative","scale":null}}}
     ]},
    {"data":{"name":"seg"},"transform":[{"filter":"datum.p=='b'"}],"mark":{"type":"rule","strokeWidth":1.8},"encoding":{"x2":{"field":"x2"},"y2":{"field":"y2"},"color":{"field":"k","type":"nominal","scale":{"domain":["in","out"],"range":["#9a78bc","#7b2a8e"]},"legend":null}}},
    {"data":{"name":"red"},"transform":[{"filter":"datum.p=='b'"},{"flatten":["x","y"]}],"mark":{"type":"line","color":"#e8242a","strokeWidth":1.7,"interpolate":"monotone"}},
    {"data":{"name":"pts"},"transform":[{"filter":"datum.p=='b'"}],"layer":[
      {"mark":{"type":"point","filled":true,"size":60,"opacity":1},"encoding":{"color":{"field":"n","type":"nominal","scale":{"domain":["D","A","C","B","EE1","DFE"],"range":["#00e8f0","#7d1a7d","#a8703a","#f2f200","#0a14ff","#000000"]},"legend":null}}},
      {"mark":{"type":"text","dy":-10,"fontSize":10,"font":"Liberation Sans","color":"#333"},"encoding":{"text":{"field":"n"}}}
    ]},
    {"data":{"name":"box"},"transform":[{"filter":"datum.p=='b'"}],"mark":{"type":"rect","fill":"white","stroke":"#a37145","strokeWidth":2},"encoding":{"x2":{"field":"x2"},"y2":{"field":"y2"}}},
    {"data":{"name":"boxt"},"transform":[{"filter":"datum.p=='b'"}],"mark":{"type":"text","font":"DejaVu Sans","fontSize":17,"fontStyle":"italic","fontWeight":"bold","color":"black"},"encoding":{"text":{"field":"t"}}}
   ]},
  {"width":366,"height":355,
   "title":{"text":["(d)\u2003\u2005B, C\u2003\u2005∈\u2003\u2005𝒟,\u2003\u2005with\u2003\u2005ℛ₀\u2003\u2005=","1.04762 > 1, β\u2002=\u20022\u2002<\u2002Λ + γ + νᵢ =","1\u2002\u2006+\u2002\u20061\u2002\u2006+\u2002\u20061\u2002\u2006=\u2002\u20063\u2002\u2006<\u2002\u2006βᵣ\u2002\u2006=\u2002\u20064, γᵣ\u2002\u2006=","1/2, γₛ = 2 > γₛ* ⇔ s_B > s_dfe."],"orient":"bottom","anchor":"start","dx":-7,"offset":8},
   "encoding":{"x":{"field":"x","type":"quantitative","scale":{"domain":[-0.0381,1.035],"nice":false,"zero":false},"axis":null},"y":{"field":"y","type":"quantitative","scale":{"domain":[-0.0206,1.0235],"nice":false,"zero":false},"axis":null}},
   "resolve":{"scale":{"color":"independent"},"axis":{"x":"independent","y":"independent"}},
   "layer":[
    {"data":{"name":"tri"},"mark":{"type":"area","color":"#dfe8f8"},"encoding":{
      "x":{"field":"x","type":"quantitative","scale":{"domain":[-0.0381,1.035],"nice":false,"zero":false},"axis":{"orient":"bottom","title":null,"values":[0,0.05,0.1,0.15,0.2,0.25,0.3,0.35,0.4,0.45,0.5,0.55,0.6,0.65,0.7,0.75,0.8,0.85,0.9,0.95,1],"labelExpr":"round(datum.value*20)%4==0 ? format(datum.value,'.1f') : ''","tickSize":{"condition":{"test":"round(datum.value*20)%4==0","value":-6},"value":-3.5},"labelPadding":10}},
      "y":{"field":"y","type":"quantitative","scale":{"domain":[-0.0206,1.0235],"nice":false,"zero":false},"axis":{"orient":"left","title":null,"values":[0,0.05,0.1,0.15,0.2,0.25,0.3,0.35,0.4,0.45,0.5,0.55,0.6,0.65,0.7,0.75,0.8,0.85,0.9,0.95,1],"labelExpr":"round(datum.value*20)%4==0 ? format(datum.value,'.1f') : ''","tickSize":{"condition":{"test":"round(datum.value*20)%4==0","value":-6},"value":-3.5},"labelPadding":9}},
      "y2":{"datum":0}}},
    {"data":{"name":"mesh"},"mark":{"type":"rule","color":"#b8ccee","strokeWidth":1},"encoding":{
      "x":{"field":"x","type":"quantitative","scale":{"domain":[-0.0381,1.035],"nice":false,"zero":false},"axis":{"orient":"top","title":null,"labels":false,"values":[0,0.05,0.1,0.15,0.2,0.25,0.3,0.35,0.4,0.45,0.5,0.55,0.6,0.65,0.7,0.75,0.8,0.85,0.9,0.95,1],"tickSize":{"condition":{"test":"round(datum.value*20)%4==0","value":-6},"value":-3.5}}},
      "y":{"field":"y","type":"quantitative","scale":{"domain":[-0.0206,1.0235],"nice":false,"zero":false},"axis":{"orient":"right","title":null,"labels":false,"values":[0,0.05,0.1,0.15,0.2,0.25,0.3,0.35,0.4,0.45,0.5,0.55,0.6,0.65,0.7,0.75,0.8,0.85,0.9,0.95,1],"tickSize":{"condition":{"test":"round(datum.value*20)%4==0","value":-6},"value":-3.5}}},
      "x2":{"field":"x2"},"y2":{"field":"y2"}}},
    {"data":{"name":"edges"},"mark":{"type":"rule","strokeWidth":1.6},"encoding":{"x2":{"field":"x2"},"y2":{"field":"y2"},"color":{"field":"e","type":"nominal","scale":{"domain":["l","h"],"range":["#6e91c9","#1a1a36"]},"legend":null}}},
    {"data":{"name":"st"},"transform":[{"filter":"datum.p=='d'"},{"flatten":["x","y"]},{"window":[{"op":"row_number","as":"o"},{"op":"lag","field":"x","as":"px"},{"op":"lag","field":"y","as":"py"},{"op":"lead","field":"x","as":"nx"},{"op":"lead","field":"y","as":"ny"}],"groupby":["s"]}],
     "layer":[
      {"mark":{"type":"line","color":"#6a2ca6","strokeWidth":1.3,"interpolate":"catmull-rom"},"encoding":{"detail":{"field":"s"},"order":{"field":"o","type":"quantitative"}}},
      {"transform":[{"filter":"datum.px != null"},{"calculate":"atan2((datum.nx != null ? datum.nx : datum.x) - datum.px, (datum.ny != null ? datum.ny : datum.y) - datum.py) * 180 / PI","as":"ang"}],
       "mark":{"type":"point","shape":"M0,-1L0.5,0.9L0,0.5L-0.5,0.9Z","filled":true,"size":110,"color":"#6a2ca6","opacity":1},"encoding":{"angle":{"field":"ang","type":"quantitative","scale":null}}}
     ]},
    {"data":{"name":"seg"},"transform":[{"filter":"datum.p=='d'"}],"mark":{"type":"rule","strokeWidth":1.8},"encoding":{"x2":{"field":"x2"},"y2":{"field":"y2"},"color":{"field":"k","type":"nominal","scale":{"domain":["in","out"],"range":["#9a78bc","#7b2a8e"]},"legend":null}}},
    {"data":{"name":"red"},"transform":[{"filter":"datum.p=='d'"},{"flatten":["x","y"]}],"mark":{"type":"line","color":"#e8242a","strokeWidth":1.7,"interpolate":"monotone"}},
    {"data":{"name":"pts"},"transform":[{"filter":"datum.p=='d'"}],"layer":[
      {"mark":{"type":"point","filled":true,"size":60,"opacity":1},"encoding":{"color":{"field":"n","type":"nominal","scale":{"domain":["D","A","C","B","EE1","DFE"],"range":["#00e8f0","#7d1a7d","#a8703a","#f2f200","#0a14ff","#000000"]},"legend":null}}},
      {"mark":{"type":"text","dy":-10,"fontSize":10,"font":"Liberation Sans","color":"#333"},"encoding":{"text":{"field":"n"}}}
    ]},
    {"data":{"name":"box"},"transform":[{"filter":"datum.p=='d'"}],"mark":{"type":"rect","fill":"white","stroke":"#a37145","strokeWidth":2},"encoding":{"x2":{"field":"x2"},"y2":{"field":"y2"}}},
    {"data":{"name":"boxt"},"transform":[{"filter":"datum.p=='d'"}],"mark":{"type":"text","font":"DejaVu Sans","fontSize":17,"fontStyle":"italic","fontWeight":"bold","color":"black"},"encoding":{"text":{"field":"t"}}}
   ]}
 ]}
]
}
